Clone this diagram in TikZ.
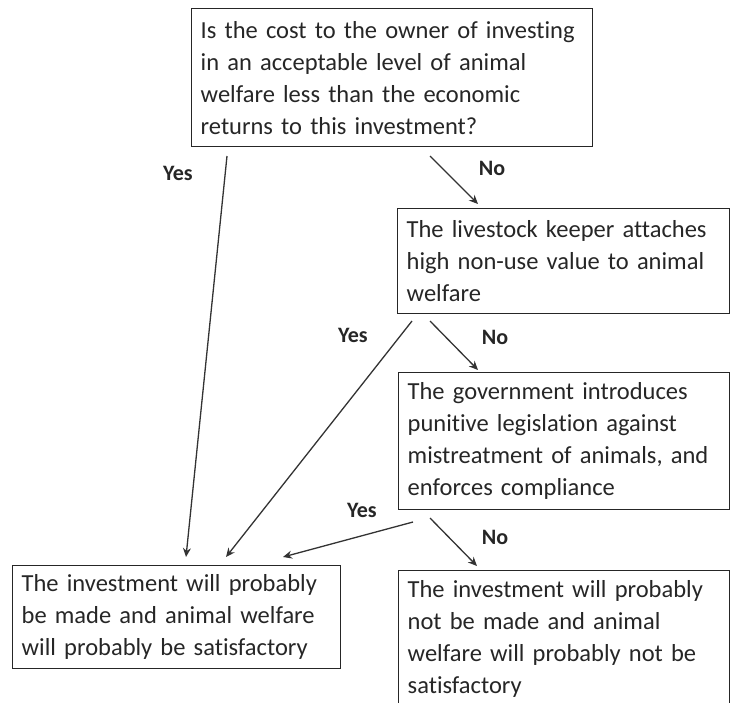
\documentclass[tikz,border=0pt]{standalone}
\usepackage{fontspec}
\setmainfont[Ligatures={NoCommon}]{Carlito}
\usetikzlibrary{arrows.meta}
\hyphenpenalty=10000
\exhyphenpenalty=10000
\begin{document}
\begin{tikzpicture}[x=1pt,y=-1pt,
  box/.style={draw=black!85, line width=1.4pt, anchor=north west, align=left,
    inner xsep=9pt, inner ysep=0pt, font=\fontsize{24.5}{32}\selectfont, text=black!85},
  lbl/.style={font=\fontsize{22}{26}\selectfont\bfseries, text=black!85},
  arr/.style={draw=black!80, line width=1.3pt, -{Stealth[length=9pt,width=8pt]}}]
\useasboundingbox (0,0) rectangle (731,702);
% boxes
\node[box, text width=383pt, minimum width=401pt, minimum height=138pt] (q1) at (191,8)
  {Is the cost to the owner of investing\\in an acceptable level of animal\\welfare less than the economic\\returns to this investment?};
\node[box, text width=314pt, minimum width=332pt, minimum height=105pt] (q2) at (397,208)
  {The livestock keeper attaches\\high non-use value to animal\\welfare};
\node[box, text width=313pt, minimum width=331pt, minimum height=137pt] (q3) at (398,372)
  {The government introduces\\punitive legislation against\\mistreatment of animals, and\\enforces compliance};
\node[box, text width=310pt, minimum width=328pt, minimum height=103pt] (r1) at (12,565)
  {The investment will probably\\be made and animal welfare\\will probably be satisfactory};
\node[box, text width=313pt, minimum width=331pt, minimum height=137pt] (r2) at (398,570)
  {The investment will probably\\not be made and animal\\welfare will probably not be\\satisfactory};
% arrow end points
\coordinate (y1s) at (227,156);
\coordinate (y1e) at (186,557);
\coordinate (n1s) at (430,156);
\coordinate (n1e) at (478,204);
\coordinate (y2s) at (412,321);
\coordinate (y2e) at (226,557);
\coordinate (n2s) at (430,321);
\coordinate (n2e) at (478,370);
\coordinate (y3s) at (413,522);
\coordinate (y3e) at (283,557);
\coordinate (n3s) at (430,518);
\coordinate (n3e) at (477,566);
% connectors
\draw[arr] (y1s) -- (y1e);
\draw[arr] (n1s) -- (n1e);
\draw[arr] (y2s) -- (y2e);
\draw[arr] (n2s) -- (n2e);
\draw[arr] (y3s) -- (y3e);
\draw[arr] (n3s) -- (n3e);
% labels
\node[lbl] (ly1) at (178,173) {Yes};
\node[lbl] (ln1) at (492,168) {No};
\node[lbl] (ly2) at (353,335) {Yes};
\node[lbl] (ln2) at (495,337) {No};
\node[lbl] (ly3) at (362,510) {Yes};
\node[lbl] (ln3) at (495,537) {No};
\end{tikzpicture}
\end{document}
